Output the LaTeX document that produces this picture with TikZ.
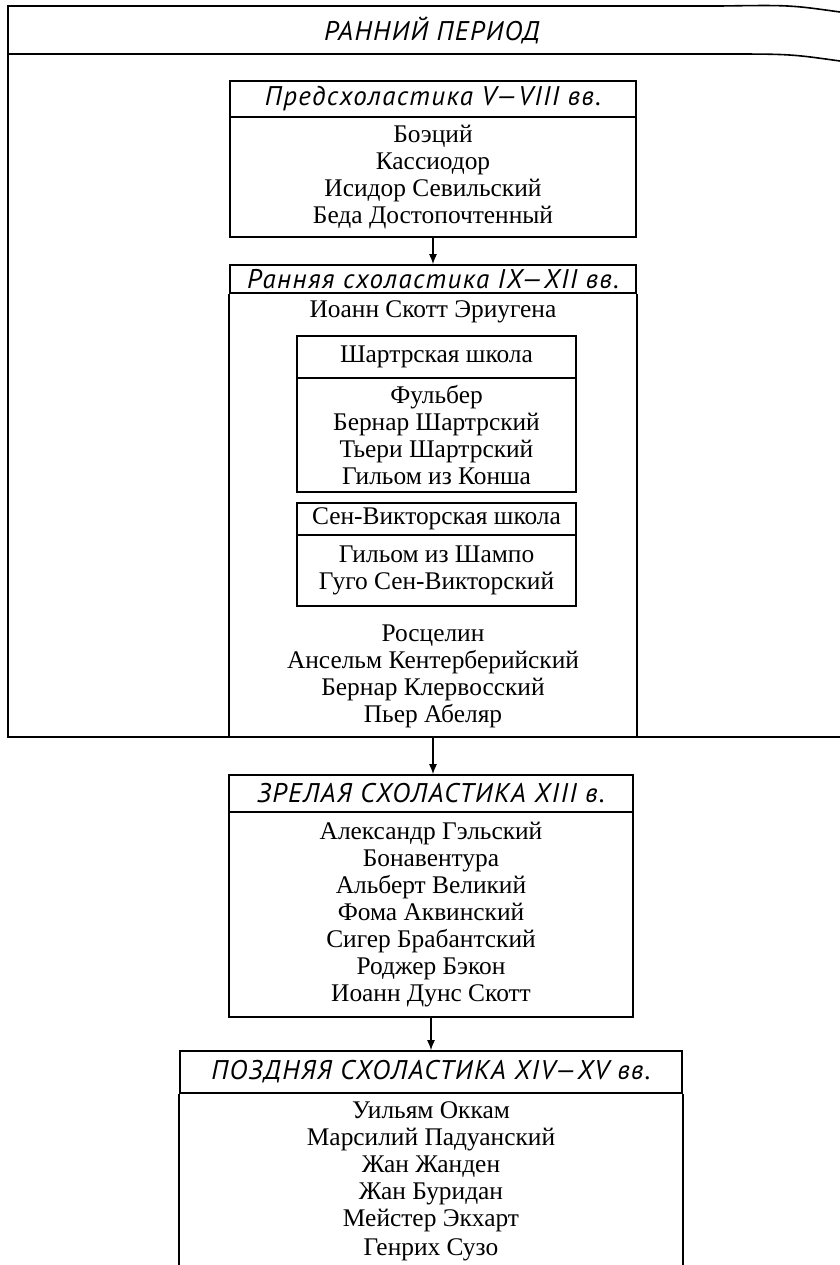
\documentclass[tikz,border=0pt]{standalone}
\usepackage{fontspec}
\setmainfont{Liberation Serif}
\newfontfamily\ttlfamily{PT Sans}[LetterSpace=5]
\usetikzlibrary{arrows.meta}

\newcommand{\namefont}{\fontsize{12.7}{13.5}\selectfont}
\newcommand{\ttlfont}{\ttlfamily\itshape\fontsize{13.5}{14}\selectfont}

\tikzset{
  frame/.style={line width=0.8pt},
  ttl/.style={draw, line width=0.8pt, inner sep=0pt, font=\ttlfont},
  school/.style={draw, line width=0.8pt, inner sep=0pt, font=\namefont},
  names/.style={draw, line width=0.8pt, inner sep=0pt, align=center, font=\namefont},
  link/.style={-{Latex[length=5pt,width=4pt]}, line width=0.7pt}
}

\begin{document}
\begin{tikzpicture}[x=0.5pt,y=-0.5pt]
	\useasboundingbox (0,0) rectangle (840,1265);

	\draw[frame] (840,12) .. controls (790,5) .. (720,6) -- (8,6) -- (8,737) -- (840,737);
	\draw[frame] (8,54) -- (720,54) .. controls (790,54) .. (840,61);
	\node[font=\ttlfont] (period) at (432,30) {РАННИЙ ПЕРИОД};

	\node[ttl, minimum width=203pt, minimum height=18pt] (pre) at (433,99) {Предсхоластика V—VIII вв.};
	\node[names, minimum width=203pt, minimum height=60pt] (prelist) at (433,177) {Боэций\\Кассиодор\\Исидор Севильский\\Беда Достопочтенный};

	\node[ttl, minimum width=203pt, minimum height=14pt] (early) at (433,279) {Ранняя схоластика IX—XII вв.};
	\coordinate (earlyend) at (433,737);
	\draw[frame] (early.south west) -- (early.south west |- earlyend);
	\draw[frame] (early.south east) -- (early.south east |- earlyend);
	\node[font=\namefont] (eriugena) at (433,312) {Иоанн Скотт Эриугена};

	\node[school, minimum width=139.5pt, minimum height=21pt] (chartres) at (436.5,357) {Шартрская школа};
	\node[names, minimum width=139.5pt, minimum height=57pt] (chartreslist) at (436.5,435) {Фульбер\\Бернар Шартрский\\Тьери Шартрский\\Гильом из Конша};
	\node[school, minimum width=139.5pt, minimum height=16pt] (victor) at (436.5,519) {Сен-Викторская школа};
	\node[names, minimum width=139.5pt, minimum height=35.5pt] (victorlist) at (436.5,570.5) {Гильом из Шампо\\Гуго Сен-Викторский};
	\node[font=\namefont, align=center] (others) at (433,676) {Росцелин\\Ансельм Кентерберийский\\Бернар Клервосский\\Пьер Абеляр};

	\node[ttl, minimum width=202pt, minimum height=18.5pt] (mature) at (431,793.5) {ЗРЕЛАЯ СХОЛАСТИКА XIII в.};
	\node[names, minimum width=202pt, minimum height=102.5pt] (maturelist) at (431,914.5) {Александр Гэльский\\Бонавентура\\Альберт Великий\\Фома Аквинский\\Сигер Брабантский\\Роджер Бэкон\\Иоанн Дунс Скотт};

	\node[ttl, minimum width=251pt, minimum height=21pt] (late) at (431,1072) {ПОЗДНЯЯ СХОЛАСТИКА XIV—XV вв.};
	\coordinate (pagebottom) at (431,1265);
	\draw[frame] (late.south west) -- (late.south west |- pagebottom);
	\draw[frame] (late.south east) -- (late.south east |- pagebottom);
	\node[font=\namefont, align=center] (latelist) at (431,1181) {Уильям Оккам\\Марсилий Падуанский\\Жан Жанден\\Жан Буридан\\Мейстер Экхарт\\[1pt]Генрих Сузо};

	\draw[link] (prelist.south) -- (early.north);
	\draw[link] (earlyend) -- (earlyend |- mature.north);
	\draw[link] (maturelist.south) -- (maturelist.south |- late.north);
\end{tikzpicture}
\end{document}
